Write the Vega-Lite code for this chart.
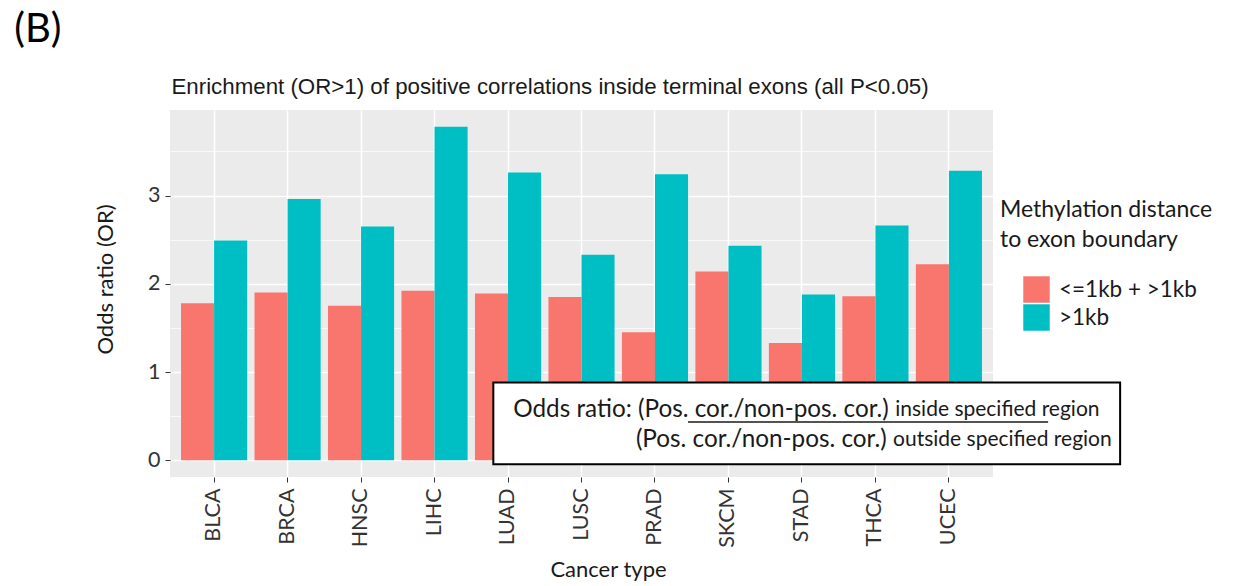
{
  "$schema": "https://vega.github.io/schema/vega-lite/v6.json",
  "width": 823,
  "height": 367,
  "autosize": {"type": "none"},
  "padding": {"left": 170, "top": 110, "right": 243, "bottom": 109},
  "background": "white",
  "config": {"view": {"fill": "#EBEBEB", "stroke": null}, "font": "Lato"},
  "datasets": {
    "bars": [
      {"cancer": "BLCA", "group": "<=1kb + >1kb", "or": 1.78},
      {"cancer": "BLCA", "group": ">1kb", "or": 2.49},
      {"cancer": "BRCA", "group": "<=1kb + >1kb", "or": 1.90},
      {"cancer": "BRCA", "group": ">1kb", "or": 2.96},
      {"cancer": "HNSC", "group": "<=1kb + >1kb", "or": 1.75},
      {"cancer": "HNSC", "group": ">1kb", "or": 2.65},
      {"cancer": "LIHC", "group": "<=1kb + >1kb", "or": 1.92},
      {"cancer": "LIHC", "group": ">1kb", "or": 3.78},
      {"cancer": "LUAD", "group": "<=1kb + >1kb", "or": 1.89},
      {"cancer": "LUAD", "group": ">1kb", "or": 3.26},
      {"cancer": "LUSC", "group": "<=1kb + >1kb", "or": 1.85},
      {"cancer": "LUSC", "group": ">1kb", "or": 2.33},
      {"cancer": "PRAD", "group": "<=1kb + >1kb", "or": 1.45},
      {"cancer": "PRAD", "group": ">1kb", "or": 3.24},
      {"cancer": "SKCM", "group": "<=1kb + >1kb", "or": 2.14},
      {"cancer": "SKCM", "group": ">1kb", "or": 2.43},
      {"cancer": "STAD", "group": "<=1kb + >1kb", "or": 1.33},
      {"cancer": "STAD", "group": ">1kb", "or": 1.88},
      {"cancer": "THCA", "group": "<=1kb + >1kb", "or": 1.86},
      {"cancer": "THCA", "group": ">1kb", "or": 2.66},
      {"cancer": "UCEC", "group": "<=1kb + >1kb", "or": 2.22},
      {"cancer": "UCEC", "group": ">1kb", "or": 3.28}
    ]
  },
  "layer": [
    {
      "data": {"name": "bars"},
      "mark": {"type": "bar"},
      "encoding": {
        "x": {
          "field": "cancer",
          "type": "nominal",
          "sort": null,
          "scale": {"paddingInner": 0.1, "paddingOuter": 0.15},
          "axis": {
            "title": "Cancer type",
            "titleFont": "Lato",
            "titleFontSize": 22,
            "titleFontWeight": "normal",
            "titleColor": "#1a1a1a",
            "titlePadding": 12,
            "titleX": 438,
            "labelAngle": -90,
            "labelFont": "Lato",
            "labelFontSize": 21.5,
            "labelColor": "#333333",
            "labelPadding": 6,
            "tickColor": "#333333",
            "tickSize": 5,
            "domain": false,
            "grid": true,
            "gridColor": "white",
            "gridWidth": 1.5,
            "bandPosition": 0.5
          }
        },
        "xOffset": {"field": "group", "sort": ["<=1kb + >1kb", ">1kb"]},
        "y": {
          "field": "or",
          "type": "quantitative",
          "scale": {"domain": [-0.189, 3.969], "nice": false, "zero": false},
          "axis": {
            "values": [0, 1, 2, 3],
            "title": "Odds ratio (OR)",
            "titleFont": "Lato",
            "titleFontSize": 22,
            "titleFontWeight": "normal",
            "titleColor": "#1a1a1a",
            "titlePadding": 30,
            "titleY": 169,
            "labelFont": "Lato",
            "labelFontSize": 21.5,
            "labelColor": "#333333",
            "labelPadding": 5,
            "tickColor": "#333333",
            "tickSize": 5,
            "domain": false,
            "grid": true,
            "gridColor": "white",
            "gridWidth": 1.5
          }
        },
        "color": {
          "field": "group",
          "type": "nominal",
          "scale": {"domain": ["<=1kb + >1kb", ">1kb"], "range": ["#F8766D", "#00BFC4"]},
          "legend": {
            "orient": "none",
            "legendX": 830,
            "legendY": 89,
            "title": ["Methylation distance", "to exon boundary"],
            "titleFont": "Lato",
            "titleFontSize": 23,
            "titleFontWeight": "normal",
            "titleColor": "#1a1a1a",
            "titleLineHeight": 30,
            "titleLimit": 400,
            "titlePadding": 24,
            "symbolType": "square",
            "symbolSize": 700,
            "symbolStrokeWidth": 0,
            "symbolOpacity": 1,
            "symbolOffset": 23,
            "labelFont": "Lato",
            "labelFontSize": 22.5,
            "labelColor": "#1a1a1a",
            "labelOffset": 9,
            "labelLimit": 300,
            "rowPadding": 1
          }
        }
      }
    },
    {
      "mark": {"type": "rule", "strokeDash": [6, 5], "strokeWidth": 1.5, "color": "black"},
      "encoding": {
        "y": {
          "datum": 1,
          "type": "quantitative",
          "scale": {"domain": [-0.189, 3.969], "nice": false, "zero": false},
          "axis": {
            "orient": "left",
            "values": [0.5, 1.5, 2.5, 3.5],
            "grid": true,
            "gridColor": "white",
            "gridWidth": 0.7,
            "labels": false,
            "ticks": false,
            "domain": false,
            "title": null
          }
        }
      }
    },
    {
      "data": {"values": [{"x1": 4.80, "x2": 13.33, "y1": 0.883, "y2": -0.045}]},
      "mark": {"type": "rect", "fill": "white", "stroke": "black", "strokeWidth": 2},
      "encoding": {
        "x": {"field": "x1", "type": "quantitative", "scale": {"domain": [0.4, 11.6], "nice": false, "zero": false}, "axis": null},
        "x2": {"field": "x2"},
        "y": {"field": "y1", "type": "quantitative", "scale": {"domain": [-0.189, 3.969], "nice": false, "zero": false}, "axis": null},
        "y2": {"field": "y2"}
      }
    },
    {
      "data": {"values": [{"x1": 7.45, "x2": 12.35, "y": 0.434}]},
      "mark": {"type": "rule", "stroke": "#1a1a1a", "strokeWidth": 1.5},
      "encoding": {
        "x": {"field": "x1", "type": "quantitative", "scale": {"domain": [0.4, 11.6], "nice": false, "zero": false}, "axis": null},
        "x2": {"field": "x2"},
        "y": {"field": "y", "type": "quantitative", "scale": {"domain": [-0.189, 3.969], "nice": false, "zero": false}, "axis": null}
      }
    },
    {
      "data": {"values": [
        {"label": "Odds ratio: (Pos. cor./non-pos. cor.)", "x": 5.07, "y": 0.566},
        {"label": "(Pos. cor./non-pos. cor.)", "x": 6.74, "y": 0.226}
      ]},
      "mark": {"type": "text", "align": "left", "baseline": "middle", "font": "Lato", "fontSize": 24.3, "color": "#1a1a1a"},
      "encoding": {
        "x": {"field": "x", "type": "quantitative", "scale": {"domain": [0.4, 11.6], "nice": false, "zero": false}, "axis": null},
        "y": {"field": "y", "type": "quantitative", "scale": {"domain": [-0.189, 3.969], "nice": false, "zero": false}, "axis": null},
        "text": {"field": "label"}
      }
    },
    {
      "data": {"values": [
        {"label": "inside specified region", "x": 10.27, "y": 0.566},
        {"label": "outside specified region", "x": 10.24, "y": 0.226}
      ]},
      "mark": {"type": "text", "align": "left", "baseline": "middle", "font": "Lato", "fontSize": 21, "color": "#1a1a1a"},
      "encoding": {
        "x": {"field": "x", "type": "quantitative", "scale": {"domain": [0.4, 11.6], "nice": false, "zero": false}, "axis": null},
        "y": {"field": "y", "type": "quantitative", "scale": {"domain": [-0.189, 3.969], "nice": false, "zero": false}, "axis": null},
        "text": {"field": "label"}
      }
    },
    {
      "data": {"values": [{"label": "Enrichment (OR>1) of positive correlations inside terminal exons (all P<0.05)", "x": 0.42, "y": 4.224}]},
      "mark": {"type": "text", "align": "left", "baseline": "middle", "font": "Liberation Sans", "fontSize": 22.3, "color": "#1a1a1a"},
      "encoding": {
        "x": {"field": "x", "type": "quantitative", "scale": {"domain": [0.4, 11.6], "nice": false, "zero": false}, "axis": null},
        "y": {"field": "y", "type": "quantitative", "scale": {"domain": [-0.189, 3.969], "nice": false, "zero": false}, "axis": null},
        "text": {"field": "label"}
      }
    },
    {
      "data": {"values": [{"label": "(B)", "x": -1.72, "y": 4.87}]},
      "mark": {"type": "text", "align": "left", "baseline": "middle", "font": "Lato", "fontSize": 40, "color": "black"},
      "encoding": {
        "x": {"field": "x", "type": "quantitative", "scale": {"domain": [0.4, 11.6], "nice": false, "zero": false}, "axis": null},
        "y": {"field": "y", "type": "quantitative", "scale": {"domain": [-0.189, 3.969], "nice": false, "zero": false}, "axis": null},
        "text": {"field": "label"}
      }
    }
  ],
  "resolve": {"scale": {"x": "independent"}, "axis": {"x": "independent", "y": "independent"}}
}
